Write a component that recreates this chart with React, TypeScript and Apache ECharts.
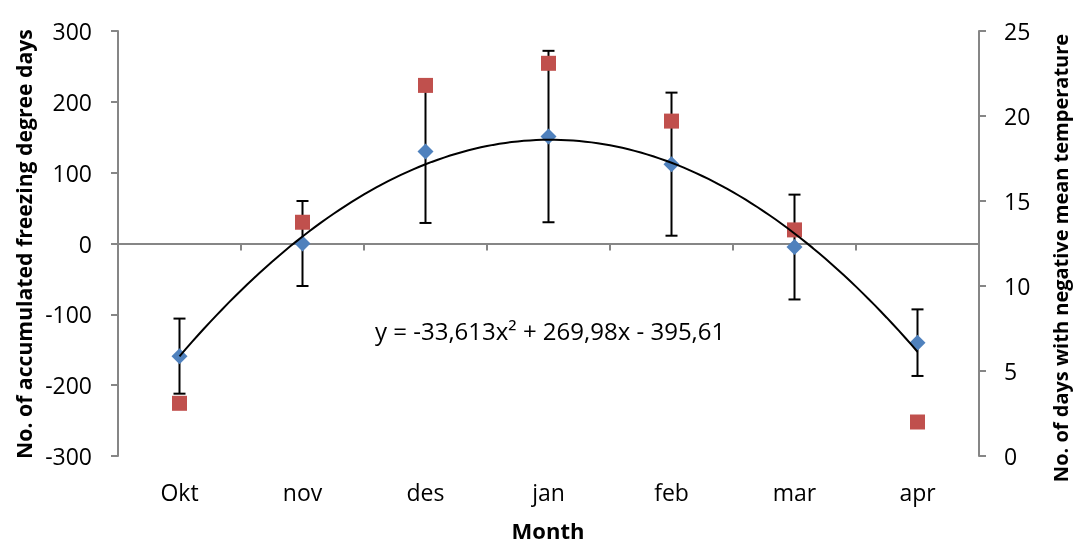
import React, { useEffect, useRef } from "react";
import * as echarts from "echarts";

const months = ["Okt", "nov", "des", "jan", "feb", "mar", "apr"];
const freezeMean = [-159, 0, 130, 151, 112, -5, -140];
const freezeErr = [53, 60, 101, 121, 101, 74, 47];
const negDays = [3.1, 13.75, 21.8, 23.1, 19.7, 13.3, 2.0];
const trendCoef = [-33.613, 269.98, -395.61];
const leftRange = [-300, 300, 100];
const rightRange = [0, 25, 5];
const equationText = "y = -33,613x\u00B2 + 269,98x - 395,61";

const FONT = "'Open Sans', Lato, sans-serif";
const AXIS_COLOR = "#868686";

export default function App() {
  const ref = useRef<HTMLDivElement>(null);
  useEffect(() => {
    if (!ref.current) return;
    const chart = echarts.init(ref.current, undefined, { renderer: "svg" });
    const trendPts: number[][] = [];
    for (let i = 0; i <= 120; i++) {
      const x = 1 + (6 * i) / 120;
      trendPts.push([x, trendCoef[0] * x * x + trendCoef[1] * x + trendCoef[2]]);
    }
    const errData = months.map((_, i) => [i, freezeMean[i] - freezeErr[i], freezeMean[i] + freezeErr[i]]);
    const axisStyle = { show: true, lineStyle: { color: AXIS_COLOR, width: 2 } };
    chart.setOption({
      animation: false,
      textStyle: { fontFamily: FONT },
      grid: { left: 118, right: 96, top: 31, bottom: 88, containLabel: false },
      xAxis: [
        {
          type: "category",
          data: months,
          position: "bottom",
          axisLine: { show: false, onZero: false },
          axisTick: { show: false },
          axisLabel: { fontSize: 23, color: "#000", margin: 24, fontFamily: FONT },
          splitLine: { show: false },
        },
        {
          type: "category",
          data: months,
          position: "bottom",
          axisLine: { show: true, onZero: true, onZeroAxisIndex: 0, lineStyle: { color: AXIS_COLOR, width: 2 } },
          axisTick: { show: true, length: 7, alignWithLabel: false, lineStyle: { color: AXIS_COLOR, width: 2 } },
          axisLabel: { show: false },
          splitLine: { show: false },
        },
        { type: "value", min: 0.5, max: 7.5, show: false },
      ],
      yAxis: [
        {
          type: "value",
          position: "left",
          min: leftRange[0],
          max: leftRange[1],
          interval: leftRange[2],
          axisLine: axisStyle,
          axisTick: { show: true, length: 7, lineStyle: { color: AXIS_COLOR, width: 2 } },
          axisLabel: { fontSize: 23, color: "#000", margin: 26, fontFamily: FONT },
          splitLine: { show: false },
        },
        {
          type: "value",
          position: "right",
          min: rightRange[0],
          max: rightRange[1],
          interval: rightRange[2],
          axisLine: axisStyle,
          axisTick: { show: true, length: 7, lineStyle: { color: AXIS_COLOR, width: 2 } },
          axisLabel: { fontSize: 23, color: "#000", margin: 25, fontFamily: FONT },
          splitLine: { show: false },
        },
      ],
      series: [
        {
          type: "custom",
          xAxisIndex: 0,
          yAxisIndex: 0,
          data: errData,
          encode: { x: 0, y: [1, 2] },
          z: 2,
          renderItem: (params: any, api: any) => {
            const x = api.value(0);
            const lo = api.coord([x, api.value(1)]);
            const hi = api.coord([x, api.value(2)]);
            const hw = 6;
            const st = { stroke: "#000", lineWidth: 2 };
            return {
              type: "group",
              children: [
                { type: "line", shape: { x1: lo[0], y1: lo[1], x2: hi[0], y2: hi[1] }, style: st },
                { type: "line", shape: { x1: lo[0] - hw, y1: lo[1], x2: lo[0] + hw, y2: lo[1] }, style: st },
                { type: "line", shape: { x1: hi[0] - hw, y1: hi[1], x2: hi[0] + hw, y2: hi[1] }, style: st },
              ],
            };
          },
        },
        {
          type: "scatter",
          name: "freezing",
          xAxisIndex: 0,
          yAxisIndex: 0,
          data: freezeMean,
          symbol: "diamond",
          symbolSize: 16,
          itemStyle: { color: "#4F81BD", opacity: 1 },
          z: 3,
        },
        {
          type: "scatter",
          name: "days",
          xAxisIndex: 0,
          yAxisIndex: 1,
          data: negDays,
          symbol: "rect",
          symbolSize: 15,
          itemStyle: { color: "#C0504D", opacity: 1 },
          z: 4,
        },
        {
          type: "line",
          xAxisIndex: 2,
          yAxisIndex: 0,
          data: trendPts,
          showSymbol: false,
          symbol: "none",
          lineStyle: { color: "#000", width: 2 },
          z: 5,
        },
      ],
      graphic: [
        {
          type: "text",
          x: 375,
          y: 330,
          style: { text: equationText, fontSize: 24, fontFamily: FONT, fill: "#000", textAlign: "left", textVerticalAlign: "middle" },
        },
        {
          type: "text",
          x: 23,
          y: 244,
          rotation: Math.PI / 2,
          style: { text: "No. of accumulated freezing degree days", fontSize: 21.2, fontWeight: "bold", fontFamily: FONT, fill: "#000", textAlign: "center", textVerticalAlign: "middle" },
        },
        {
          type: "text",
          x: 1060,
          y: 258,
          rotation: Math.PI / 2,
          style: { text: "No. of days with negative mean temperature", fontSize: 20, fontWeight: "bold", fontFamily: FONT, fill: "#000", textAlign: "center", textVerticalAlign: "middle" },
        },
        {
          type: "text",
          x: 548,
          y: 530,
          style: { text: "Month", fontSize: 22, fontWeight: "bold", fontFamily: FONT, fill: "#000", textAlign: "center", textVerticalAlign: "middle" },
        },
      ],
    });
    return () => chart.dispose();
  }, []);
  return <div ref={ref} style={{ position: "fixed", left: 0, top: 0, width: 1075, height: 544 }} />;
}
